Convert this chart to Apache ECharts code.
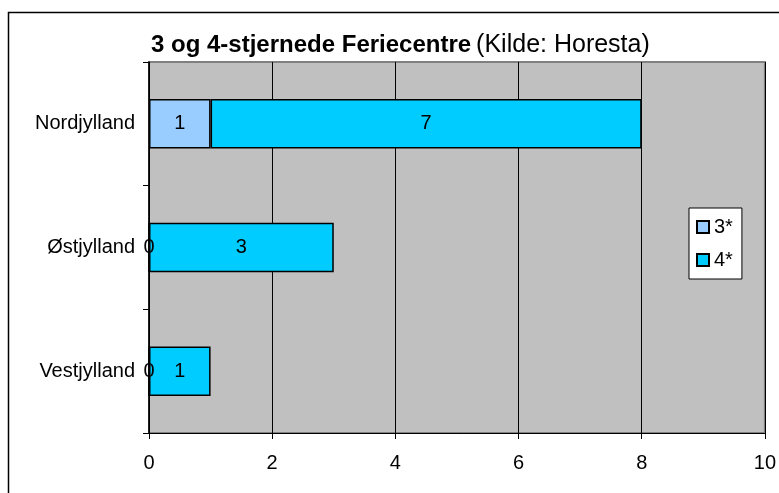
<!DOCTYPE html>
<html>
<head>
<meta charset="utf-8">
<script src="https://cdn.jsdelivr.net/npm/echarts@6/dist/echarts.min.js"></script>
<style>
  html, body { margin: 0; padding: 0; background: #fff; }
  #chart { width: 779px; height: 493px; }
</style>
</head>
<body>
<div id="chart"></div>
<script>
// regioner, nederst først (echarts tegner kategori-aksen nedefra)
const regions = ['Vestjylland', 'Østjylland', 'Nordjylland'];
const stars3 = [0, 0, 1];
const stars4 = [1, 3, 7];
const seriesNames = ['3*', '4*'];
const xTicks = [0, 2, 4, 6, 8, 10];

const myChart = echarts.init(document.getElementById('chart'), null, { renderer: 'canvas' });

const font = 'Liberation Sans, Arial, sans-serif';

const barLabel = {
  show: true,
  position: 'inside',
  color: '#000',
  fontSize: 20,
  fontFamily: font,
  formatter: p => String(p.value)
};

myChart.setOption({
  animation: false,
  graphic: [{
    type: 'rect',
    shape: { x: 8.5, y: 12.5, width: 800, height: 500 },
    style: { fill: 'none', stroke: '#000', lineWidth: 1.5 },
    silent: true,
    z: -1
  }],
  title: {
    text: '{b|3 og 4-stjernede Feriecentre} {n|(Kilde: Horesta)}',
    left: 146,
    top: 28,
    textStyle: {
      rich: {
        b: { fontWeight: 'bold', fontSize: 24, fontFamily: font, color: '#000' },
        n: { fontWeight: 'normal', fontSize: 25, fontFamily: font, color: '#000' }
      }
    }
  },
  legend: {
    orient: 'vertical',
    left: 689,
    top: 208,
    data: seriesNames,
    itemWidth: 12,
    itemHeight: 12,
    itemGap: 13,
    padding: [9, 9, 9, 7],
    backgroundColor: '#fff',
    borderColor: '#000',
    borderWidth: 1,
    borderRadius: 0,
    icon: 'rect',
    textStyle: { fontSize: 20, fontFamily: font, color: '#000' }
  },
  grid: {
    left: 149,
    right: 12,
    top: 62,
    bottom: 60,
    show: true,
    backgroundColor: '#c0c0c0',
    borderColor: '#808080',
    borderWidth: 2
  },
  xAxis: {
    type: 'value',
    min: xTicks[0],
    max: xTicks[xTicks.length - 1],
    interval: 2,
    axisLine: { show: true, lineStyle: { color: '#000', width: 1 } },
    axisTick: { show: true, length: 6, lineStyle: { color: '#000' } },
    axisLabel: { fontSize: 20, fontFamily: font, color: '#000', margin: 20 },
    splitLine: { show: true, lineStyle: { color: '#000', width: 1 } }
  },
  yAxis: {
    type: 'category',
    data: regions,
    axisLine: { show: true, lineStyle: { color: '#000', width: 1.5 } },
    axisTick: { show: true, length: 6, lineStyle: { color: '#000' } },
    axisLabel: { fontSize: 20, fontFamily: font, color: '#000', margin: 14 }
  },
  series: [
    {
      name: seriesNames[0],
      type: 'bar',
      stack: 'total',
      data: stars3,
      barCategoryGap: '60%',
      itemStyle: { color: '#99ccff', borderColor: '#000', borderWidth: 1.5 },
      label: barLabel
    },
    {
      name: seriesNames[1],
      type: 'bar',
      stack: 'total',
      data: stars4,
      barCategoryGap: '60%',
      itemStyle: { color: '#00ccff', borderColor: '#000', borderWidth: 1.5 },
      label: barLabel
    }
  ]
});
</script>
</body>
</html>
